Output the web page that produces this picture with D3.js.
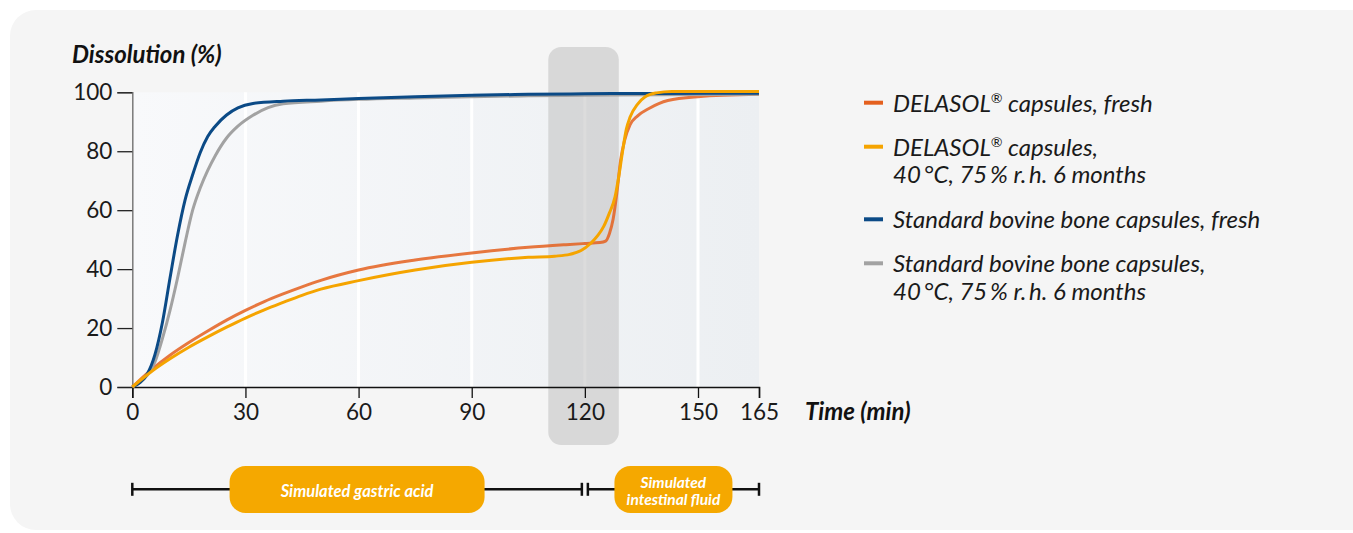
<!DOCTYPE html>
<html>
<head>
<meta charset="utf-8">
<script src="https://cdn.jsdelivr.net/npm/d3@7"></script>
<style>
  body { margin: 0; background: #fff; }
  text { font-family: Lato, "Noto Sans", sans-serif; }
</style>
</head>
<body>
<div id="chart"></div>
<script>
const W = 1353, H = 533;

// x ticks (min) and y ticks (%)
const xTicks = [0, 30, 60, 90, 120, 150, 165];
const yTicks = [0, 20, 40, 60, 80, 100];

// readings from the picture
const tBlue = [0, 2, 4, 6, 8, 10, 12, 14, 16, 18, 20, 22, 25, 28, 32, 40, 50, 60, 75, 90, 105, 120, 140, 165];
const blueFresh = [0, 1.5, 4.5, 11, 22, 37, 51.5, 63.5, 72, 79.5, 85, 88.5, 92.3, 94.7, 96.2, 97, 97.4, 97.9, 98.5, 99, 99.3, 99.5, 99.6, 99.7];

const tGray = [0, 2, 4, 6, 8, 10, 12, 14, 16, 18, 20, 22, 25, 28, 32, 36, 40, 50, 60, 75, 90, 105, 120, 140, 165];
const grayStored = [0, 1.5, 4, 8.5, 16.5, 26, 37, 49, 60, 67.5, 73.5, 78.5, 84.5, 88.5, 92.2, 94.8, 96.1, 97, 97.6, 98.1, 98.5, 98.8, 99, 99.2, 99.3];

const tOrange = [0, 5, 10, 15, 20, 25, 30, 35, 40, 45, 50, 60, 75, 90, 105, 115, 120, 124, 125.5, 126.5, 127.5, 128.5, 129.5, 130.5, 132, 134, 137, 142, 150, 165];
const orangeFresh = [0, 5.8, 10.8, 15.1, 19, 22.7, 26, 29, 31.6, 34, 36.2, 39.7, 43.1, 45.5, 47.4, 48.3, 48.7, 49, 49.5, 52, 57, 66, 77, 83.5, 89, 92, 94.5, 97.2, 98.5, 99.3];

const tYellow = [0, 5, 10, 15, 20, 25, 30, 35, 40, 45, 50, 60, 75, 90, 105, 112, 116, 119, 121.5, 123.5, 125, 126.5, 128, 129, 130, 131, 132, 134, 136, 139, 143, 150, 165];
const yellowStored = [0, 5.2, 9.6, 13.5, 17, 20.3, 23.4, 26.2, 28.7, 31.1, 33.2, 36.1, 39.7, 42.3, 44, 44.4, 45, 46.3, 48.7, 51.5, 54.5, 59, 64.5, 71.5, 80, 87.5, 91.6, 96, 98.5, 99.8, 100.3, 100.3, 100.3];

const seriesNames = [
  ["DELASOL® capsules, fresh"],
  ["DELASOL® capsules,", "40\u2009°C, 75\u2009% r.\u2009h. 6 months"],
  ["Standard bovine bone capsules, fresh"],
  ["Standard bovine bone capsules,", "40\u2009°C, 75\u2009% r.\u2009h. 6 months"]
];
const seriesColors = ["#e4601e", "#f5a400", "#0b4a86", "#a2a2a2"];

// medium phases and the transition window
const phaseLabels = [["Simulated gastric acid"], ["Simulated", "intestinal fluid"]];
const phaseStart = [0, 120];
const phaseEnd = [120, 165];
const switchWindow = [110.3, 129];

const svg = d3.select("#chart").append("svg")
    .attr("width", W)
    .attr("height", H);

const defs = svg.append("defs");
const grad = defs.append("linearGradient").attr("id", "plotBg");
grad.append("stop").attr("offset", "0%").attr("stop-color", "#f8f9fb");
grad.append("stop").attr("offset", "100%").attr("stop-color", "#eceff2");

// card
svg.append("rect")
    .attr("x", 10).attr("y", 10)
    .attr("width", 1380).attr("height", 520)
    .attr("rx", 26)
    .attr("fill", "#f5f5f5");

// slightly uneven time axis in the original
const x = d3.scaleLinear().domain([0, 150, 165]).range([132.3, 698, 759]);
const y = d3.scaleLinear().domain([0, 100]).range([387, 92.3]);

// plot background
svg.append("rect")
    .attr("x", x(0)).attr("y", y(100))
    .attr("width", x(165) - x(0)).attr("height", y(0) - y(100))
    .attr("fill", "url(#plotBg)");

// white vertical grid
svg.append("g").selectAll("line")
    .data(xTicks.filter(d => d > 0 && d < 165))
    .enter().append("line")
    .attr("x1", d => x(d)).attr("x2", d => x(d))
    .attr("y1", y(100)).attr("y2", y(0))
    .attr("stroke", "#fff")
    .attr("stroke-width", 3);

// transition window
svg.append("rect")
    .attr("x", x(switchWindow[0])).attr("y", 47)
    .attr("width", x(switchWindow[1]) - x(switchWindow[0]))
    .attr("height", 398)
    .attr("rx", 13)
    .attr("fill", "rgba(196,196,196,0.6)");

// axes
const yAxis = svg.append("g")
    .attr("transform", `translate(${x(0)},0)`)
    .call(d3.axisLeft(y).tickValues(yTicks).tickSize(15).tickPadding(5));
yAxis.select(".domain").attr("stroke", "#7a7a7a").attr("stroke-width", 1.5);
yAxis.selectAll(".tick line").attr("stroke", "#222").attr("stroke-width", 1.3);
yAxis.selectAll(".tick text")
    .attr("font-size", 22.5).attr("fill", "#1a1a1a")
    .style("font-family", "Lato");

const xAxis = svg.append("g")
    .attr("transform", `translate(0,${y(0)})`)
    .call(d3.axisBottom(x).tickValues(xTicks).tickFormat(d3.format("d")).tickSize(11).tickPadding(6));
xAxis.select(".domain").attr("stroke", "#111").attr("stroke-width", 1.5);
xAxis.selectAll(".tick line").attr("stroke", "#111").attr("stroke-width", 1.3);
xAxis.selectAll(".tick text")
    .attr("font-size", 22.5).attr("fill", "#1a1a1a")
    .style("font-family", "Lato");

// axis titles
svg.append("text")
    .attr("x", 72).attr("y", 63)
    .attr("font-size", 24).attr("font-weight", "bold").attr("font-style", "italic")
    .attr("fill", "#111")
    .text("Dissolution (%)");

svg.append("text")
    .attr("x", 805).attr("y", 420)
    .attr("font-size", 24).attr("font-weight", "bold").attr("font-style", "italic")
    .attr("fill", "#111")
    .text("Time (min)");

// curves
const lineGen = d3.line()
    .x(d => x(d[0]))
    .y(d => y(d[1]))
    .curve(d3.curveMonotoneX);

const curves = [
  { t: tOrange, v: orangeFresh, c: seriesColors[0], o: 0.85 },
  { t: tGray, v: grayStored, c: seriesColors[3], o: 1 },
  { t: tBlue, v: blueFresh, c: seriesColors[2], o: 1 },
  { t: tYellow, v: yellowStored, c: seriesColors[1], o: 1 }
];

svg.append("g").selectAll("path")
    .data(curves)
    .enter().append("path")
    .attr("d", d => lineGen(d.t.map((t, i) => [t, d.v[i]])))
    .attr("fill", "none")
    .attr("stroke", d => d.c)
    .attr("stroke-opacity", d => d.o)
    .attr("stroke-width", 3);

// legend
const legendTop = [102.7, 146.7, 219.3, 263.3];
const legend = svg.append("g");
seriesNames.forEach((lines, i) => {
    legend.append("line")
        .attr("x1", 864).attr("x2", 883)
        .attr("y1", legendTop[i]).attr("y2", legendTop[i])
        .attr("stroke", seriesColors[i])
        .attr("stroke-width", 4);
    const txt = legend.append("text")
        .attr("x", 893).attr("y", legendTop[i] + 9)
        .attr("font-size", 24).attr("font-style", "italic")
        .attr("fill", "#1a1a1a");
    lines.forEach((ln, j) => {
        const ts = txt.append("tspan").attr("x", 893).attr("dy", j === 0 ? 0 : 27.3);
        const parts = ln.split("®");
        if (parts.length > 1) {
            ts.append("tspan").text(parts[0]);
            ts.append("tspan").attr("font-size", 14).attr("dy", -9).text("®");
            ts.append("tspan").attr("dy", 9).text(parts[1]);
        } else {
            ts.text(ln);
        }
    });
});

// phase timeline
const tlY = 489.3;
const tl = svg.append("g").attr("stroke", "#111").attr("stroke-width", 2.5);
const segs = [[x(phaseStart[0]), x(phaseEnd[0]) - 3], [x(phaseStart[1]) + 3, x(phaseEnd[1])]];
segs.forEach(s => {
    tl.append("line").attr("x1", s[0]).attr("x2", s[1]).attr("y1", tlY).attr("y2", tlY);
    s.forEach(px => {
        tl.append("line").attr("x1", px).attr("x2", px).attr("y1", tlY - 6.5).attr("y2", tlY + 6.5);
    });
});

const pillW = [255, 118];
phaseLabels.forEach((lines, i) => {
    const cx = (segs[i][0] + segs[i][1]) / 2;
    svg.append("rect")
        .attr("x", cx - pillW[i] / 2).attr("y", 466)
        .attr("width", pillW[i]).attr("height", 47)
        .attr("rx", 16)
        .attr("fill", "#f5a800");
    const two = lines.length > 1;
    const txt = svg.append("text")
        .attr("text-anchor", "middle")
        .attr("font-size", two ? 15.5 : 16.5).attr("font-weight", "bold").attr("font-style", "italic")
        .attr("fill", "#fff");
    const y0 = two ? 487.5 : 496.6;
    lines.forEach((ln, j) => {
        txt.append("tspan").attr("x", cx).attr("y", y0 + j * 17.5).text(ln);
    });
});
</script>
</body>
</html>
